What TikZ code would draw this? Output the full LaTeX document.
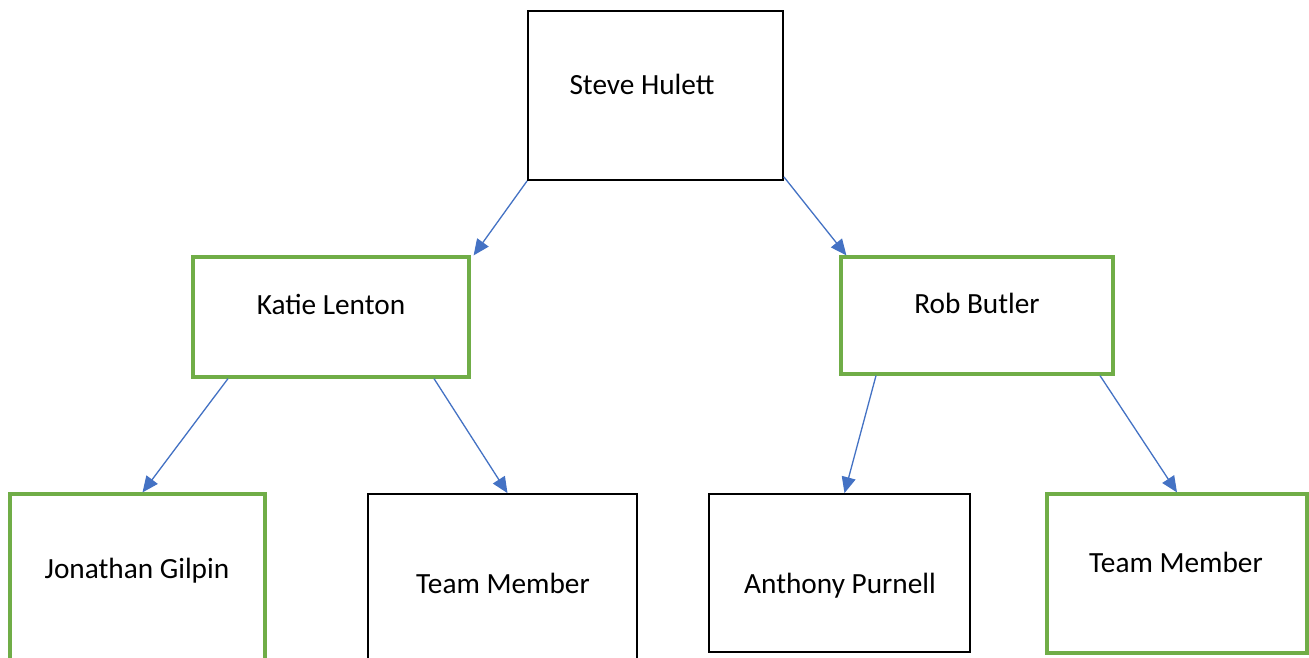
\documentclass[tikz,border=0pt]{standalone}
\usepackage{fontspec}
\setmainfont{Carlito}
\usepackage{xcolor}
\usetikzlibrary{
    calc,
    arrows.meta
}
\definecolor{boxgreen}{HTML}{70AD47}
\definecolor{linkblue}{HTML}{4472C4}
\tikzset{
    plainbox/.style={draw=black, line width=1.8pt, rectangle, inner sep=0pt},
    greenbox/.style={draw=boxgreen, line width=3.2pt, rectangle, inner sep=0pt},
    persontext/.style={anchor=base, inner sep=0pt, font=\fontsize{29.3}{35}\selectfont},
    link/.style={draw=linkblue, line width=1.3pt, -{Triangle[length=16pt,width=14pt]}}
}

\begin{document}
\begin{tikzpicture}[x=1pt,y=-1pt]
        \clip (0,0) rectangle (1309,657);
        \fill[white] (0,0) rectangle (1309,657);

        % boxes
        \node[plainbox, minimum width=255, minimum height=169] (steve) at (655.5,95.5) {};
        \node[greenbox, minimum width=276, minimum height=120] (katie) at (331,317) {};
        \node[greenbox, minimum width=272, minimum height=117] (rob)   at (977,315.5) {};
        \node[greenbox, minimum width=255, minimum height=170] (jon)   at (137.5,579) {};
        \node[plainbox, minimum width=269, minimum height=170] (tmone) at (502.5,579) {};
        \node[plainbox, minimum width=261, minimum height=158] (tony)  at (839.5,573) {};
        \node[greenbox, minimum width=260, minimum height=159] (tmtwo) at (1177,573.5) {};

        % names
        \node[persontext] (stevetext) at (642,94)  {Steve Hulett};
        \node[persontext] (katietext) at (331,314) {Katie Lenton};
        \node[persontext] (robtext)   at (977,313) {Rob Butler};
        \node[persontext] (jontext)   at (137,578) {Jonathan Gilpin};
        \node[persontext] (tmonetext) at (503,593) {Team Member};
        \node[persontext] (tonytext)  at (840,593) {Anthony Purnell};
        \node[persontext] (tmtwotext) at (1176,572) {Team Member};

        % links
        \draw[link] (steve.south west) -- ([xshift=3pt]katie.north east);
        \draw[link] ([yshift=4pt]steve.south east) -- ([xshift=7pt]rob.north west);
        \draw[link] ([xshift=-103pt]katie.south) -- ([xshift=5pt]jon.north);
        \draw[link] ([xshift=103pt]katie.south) -- ([xshift=5pt]tmone.north);
        \draw[link] ([xshift=-101pt]rob.south) -- ([xshift=5pt]tony.north);
        \draw[link] ([xshift=123pt]rob.south) -- (tmtwo.north);
    \end{tikzpicture}
\end{document}
